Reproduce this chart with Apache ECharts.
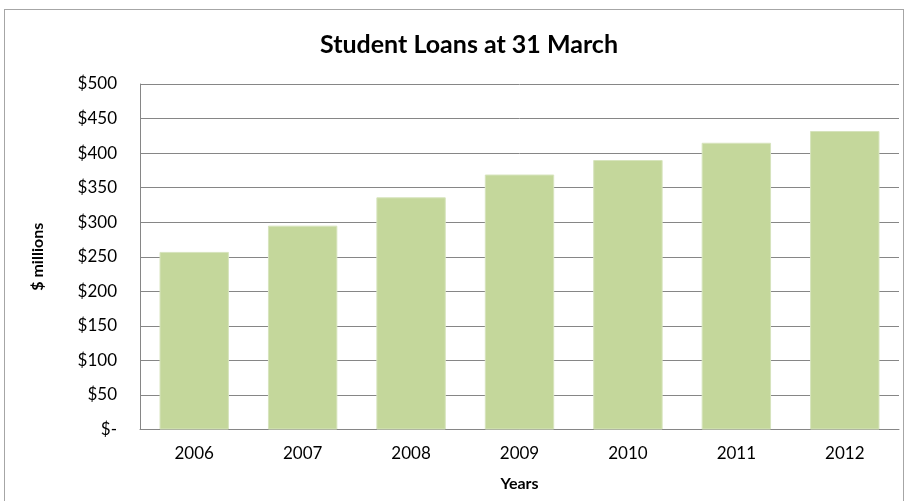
<!DOCTYPE html>
<html>
<head>
<meta charset="utf-8">
<script src="https://cdn.jsdelivr.net/npm/echarts@6/dist/echarts.min.js"></script>
<style>
  html, body { margin: 0; padding: 0; background: #fff; }
  #frame { position: absolute; left: 4px; top: 9px; width: 900px; height: 500px; border: 1px solid #a6a6a6; box-sizing: border-box; }
  #chart { position: absolute; left: 0; top: 0; width: 910px; height: 501px; }
</style>
</head>
<body>
<div id="frame"></div>
<div id="chart"></div>
<script>
// Student loan balances at 31 March, $ millions
const years = ['2006', '2007', '2008', '2009', '2010', '2011', '2012'];
const loans = [257, 295, 336, 369, 390, 415, 432];
const yTicks = { min: 0, max: 500, step: 50 };

const font = 'Lato, "Open Sans", sans-serif';
const chart = echarts.init(document.getElementById('chart'), null, { renderer: 'canvas' });

chart.setOption({
  animation: false,
  title: {
    text: 'Student Loans at 31 March',
    left: 464, top: 27, textAlign: 'center',
    textStyle: { fontFamily: font, fontWeight: 'bold', fontSize: 25, color: '#000' }
  },
  grid: { left: 140, right: 11, top: 84, bottom: 71.5 },
  xAxis: {
    type: 'category',
    data: years,
    name: 'Years',
    nameLocation: 'middle',
    nameGap: 46,
    nameTextStyle: { fontFamily: font, fontWeight: 'bold', fontSize: 16, color: '#000' },
    axisLine: { lineStyle: { color: '#868686', width: 1 } },
    axisTick: { show: false },
    axisLabel: { fontFamily: font, fontSize: 17, color: '#000', margin: 16 }
  },
  yAxis: {
    type: 'value',
    min: yTicks.min, max: yTicks.max, interval: yTicks.step,
    name: '$ millions',
    nameLocation: 'middle',
    nameGap: 94,
    nameRotate: 90,
    nameTextStyle: { fontFamily: font, fontWeight: 'bold', fontSize: 16, color: '#000' },
    axisLine: { show: true, lineStyle: { color: '#868686', width: 1 } },
    axisTick: { show: false },
    splitLine: { lineStyle: { color: '#868686', width: 1 } },
    axisLabel: {
      fontFamily: font, fontSize: 17, color: '#000', margin: 23,
      formatter: v => v === 0 ? '$-' : '$' + v
    }
  },
  series: [{
    type: 'bar',
    data: loans,
    barCategoryGap: '36%',
    itemStyle: { color: '#c4d79b', borderColor: '#d7e4bd', borderWidth: 1 }
  }]
});
</script>
</body>
</html>
